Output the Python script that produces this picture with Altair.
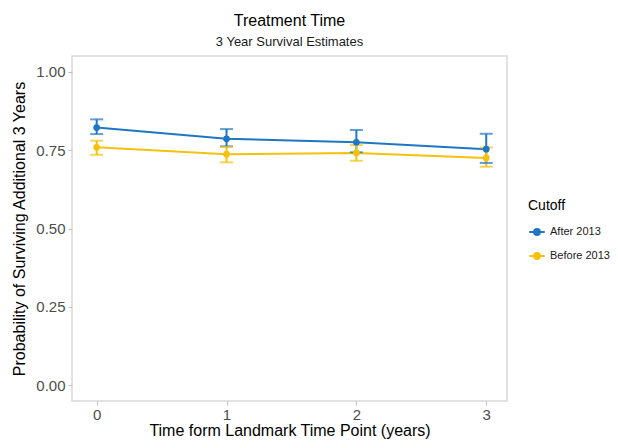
import altair as alt
import pandas as pd

years = [0, 1, 2, 3]
after_est = [0.822, 0.786, 0.775, 0.753]
after_lo = [0.801, 0.762, 0.743, 0.709]
after_hi = [0.848, 0.817, 0.814, 0.802]
before_est = [0.759, 0.737, 0.741, 0.725]
before_lo = [0.735, 0.711, 0.716, 0.697]
before_hi = [0.780, 0.760, 0.766, 0.758]

rows = []
for i, t in enumerate(years):
    rows.append({"t": t, "Cutoff": "After 2013", "est": after_est[i], "lo": after_lo[i], "hi": after_hi[i]})
    rows.append({"t": t, "Cutoff": "Before 2013", "est": before_est[i], "lo": before_lo[i], "hi": before_hi[i]})
df = pd.DataFrame(rows)

colors = ["#1f77c4", "#f4c20d"]
cscale = alt.Scale(domain=["After 2013", "Before 2013"], range=colors)

xenc = alt.X("t:Q", scale=alt.Scale(domain=[-0.19, 3.16], nice=False, zero=False),
             axis=alt.Axis(values=[0, 1, 2, 3], format="d", title="Time form Landmark Time Point (years)"))
yenc = alt.Y("est:Q", scale=alt.Scale(domain=[-0.05, 1.05], nice=False),
             axis=alt.Axis(values=[0, 0.25, 0.5, 0.75, 1.0], format=".2f",
                           title="Probability of Surviving Additional 3 Years"))

legend = alt.Legend(title="Cutoff", orient="none", legendX=456, legendY=143,
                    symbolType="M-1,0L1,0M-0.38,0A0.38,0.38 0 1 1 0.38,0A0.38,0.38 0 1 1 -0.38,0Z",
                    symbolSize=240, symbolStrokeWidth=2, symbolOpacity=1, labelFontSize=11, titleFontSize=14,
                    titleFontWeight="normal", titlePadding=10, rowPadding=8, labelColor="#1a1a1a",
                    titleColor="#000000")

base = alt.Chart(df)
color_enc = alt.Color("Cutoff:N", scale=cscale, legend=legend)

rules = base.mark_rule(strokeWidth=2).encode(x=xenc, y=alt.Y("lo:Q", scale=alt.Scale(domain=[-0.05, 1.05], nice=False)), y2="hi:Q", color=color_enc)
cap_lo = base.mark_tick(orient="horizontal", size=13, thickness=2).encode(x=xenc, y=alt.Y("lo:Q"), color=color_enc)
cap_hi = base.mark_tick(orient="horizontal", size=13, thickness=2).encode(x=xenc, y=alt.Y("hi:Q"), color=color_enc)
line = base.mark_line(strokeWidth=2).encode(x=xenc, y=yenc, color=color_enc)
pts = base.mark_point(filled=True, size=45, opacity=1).encode(x=xenc, y=yenc, color=color_enc)

chart = alt.layer(line, rules, cap_lo, cap_hi, pts).properties(
    width=435, height=345,
    title=alt.TitleParams("Treatment Time", subtitle="3 Year Survival Estimates",
                          anchor="middle", frame="group", fontSize=16, fontWeight="normal",
                          subtitleFontSize=13, subtitlePadding=7, offset=7, color="#000000",
                          subtitleColor="#1a1a1a", font="Liberation Sans", subtitleFont="Liberation Sans"),
    padding={"left": 64, "top": 48, "right": 103, "bottom": 39},
    autosize=alt.AutoSizeParams(type="none"),
).configure_view(stroke="#d9d9d9", strokeWidth=1.5).configure_axis(
    grid=False, domain=False, tickColor="#bfbfbf", tickSize=4, labelFontSize=15,
    labelColor="#4d4d4d", titleFontSize=16, titleFontWeight="normal", titleColor="#000000",
    labelFont="Liberation Sans", titleFont="Liberation Sans", labelPadding=3
).configure_axisY(titlePadding=8).configure_axisX(titlePadding=0, labelPadding=2).configure_legend(
    labelFont="Liberation Sans", titleFont="Liberation Sans")

chart.save("out.html", embed_options={"renderer": "svg", "actions": False})
